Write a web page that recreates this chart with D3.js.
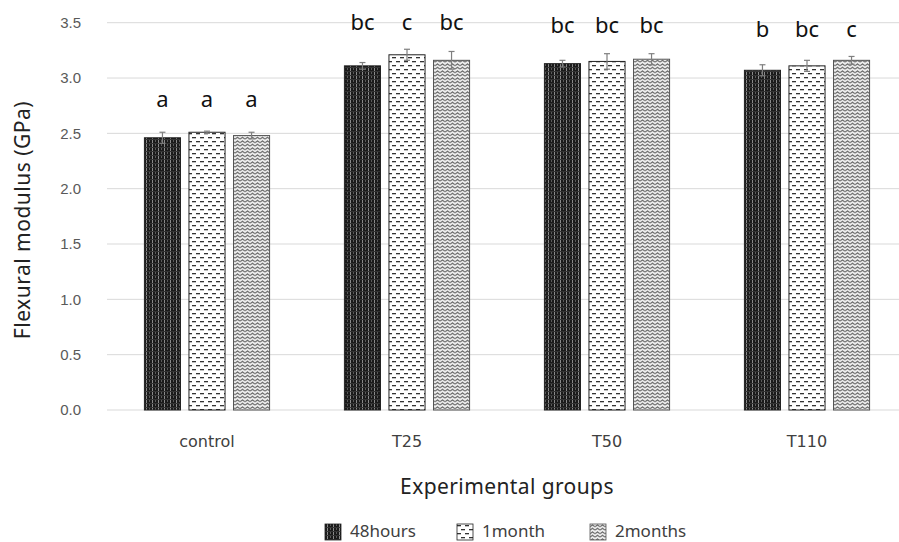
<!DOCTYPE html>
<html>
<head>
<meta charset="utf-8">
<script src="https://cdn.jsdelivr.net/npm/d3@7"></script>
<style>
  body { margin: 0; background: #fff; }
  svg { font-family: "Noto Sans", "Open Sans", sans-serif; }
</style>
</head>
<body>
<div id="chart"></div>
<script>
// groups and series
var groups = ["control", "T25", "T50", "T110"];
var series = ["48hours", "1month", "2months"];
// mean values (GPa), one array per series
var hours48 = [2.46, 3.11, 3.13, 3.07];
var month1 = [2.51, 3.21, 3.15, 3.11];
var months2 = [2.48, 3.16, 3.17, 3.16];
// error bars
var err48 = [0.05, 0.03, 0.03, 0.05];
var err1 = [0.01, 0.05, 0.07, 0.05];
var err2 = [0.03, 0.08, 0.05, 0.035];
// significance letters and the height they sit at
var letters48 = ["a", "bc", "bc", "b"];
var letters1 = ["a", "c", "bc", "bc"];
var letters2 = ["a", "bc", "bc", "c"];
var letterY = [2.74, 3.43, 3.41, 3.375];
var yTicks = [0, 0.5, 1.0, 1.5, 2.0, 2.5, 3.0, 3.5];

var width = 899, height = 542;
var svg = d3.select("#chart").append("svg")
    .attr("width", width)
    .attr("height", height);

// patterns
var defs = svg.append("defs");

// dark vertical stripes
var p1 = defs.append("pattern").attr("id", "pat0")
    .attr("patternUnits", "userSpaceOnUse").attr("width", 6).attr("height", 4);
p1.append("rect").attr("width", 6).attr("height", 4).attr("fill", "#1a1a1a");
p1.append("rect").attr("x", 2).attr("width", 1).attr("height", 4).attr("fill", "#8a8a8a");
p1.append("rect").attr("x", 5).attr("y", 0).attr("width", 1).attr("height", 2).attr("fill", "#5a5a5a");
p1.append("rect").attr("x", 0).attr("y", 3).attr("width", 6).attr("height", 1).attr("fill", "#333");

// dashes
var p2 = defs.append("pattern").attr("id", "pat1")
    .attr("patternUnits", "userSpaceOnUse").attr("width", 8).attr("height", 8);
p2.append("rect").attr("width", 8).attr("height", 8).attr("fill", "#fff");
p2.append("rect").attr("x", 0).attr("y", 1).attr("width", 4).attr("height", 1.3).attr("fill", "#333");
p2.append("rect").attr("x", 4).attr("y", 5).attr("width", 4).attr("height", 1.3).attr("fill", "#333");

// zigzag
var p3 = defs.append("pattern").attr("id", "pat2")
    .attr("patternUnits", "userSpaceOnUse").attr("width", 5).attr("height", 3.5);
p3.append("rect").attr("width", 5).attr("height", 3.5).attr("fill", "#f0f0f0");
p3.append("path").attr("d", "M0,2.7 L2.5,0.9 L5,2.7").attr("fill", "none")
    .attr("stroke", "#4a4a4a").attr("stroke-width", 1);

var x0 = d3.scaleBand()
    .domain(groups)
    .range([107, 907]);

var x1 = d3.scaleBand()
    .domain(series)
    .range([0, x0.bandwidth()])
    .paddingInner(0.19)
    .paddingOuter(0.84);

var y = d3.scaleLinear()
    .domain([0, 3.5])
    .range([410, 22.7]);

// gridlines
svg.append("g").selectAll("line")
    .data(yTicks)
    .enter()
    .append("line")
    .attr("x1", 107).attr("x2", width)
    .attr("y1", function(d) { return y(d); })
    .attr("y2", function(d) { return y(d); })
    .attr("stroke", "#d9d9d9")
    .attr("stroke-width", 1);

// y axis labels
var yAxis = d3.axisLeft(y).tickValues(yTicks).tickFormat(d3.format(".1f")).tickSize(0).tickPadding(0);
var gy = svg.append("g").attr("transform", "translate(81,0)").call(yAxis);
gy.select(".domain").remove();
gy.selectAll("text").attr("fill", "#595959").style("font-size", "15px");

// x axis labels
var xAxis = d3.axisBottom(x0).tickSize(0).tickPadding(0);
var gx = svg.append("g").attr("transform", "translate(0,436)").call(xAxis);
gx.select(".domain").remove();
gx.selectAll("text").attr("fill", "#404040")
    .style("font-size", "16px").style("font-family", "'DejaVu Sans', sans-serif");

// build rows
var vals = [hours48, month1, months2];
var errs = [err48, err1, err2];
var lets = [letters48, letters1, letters2];
var rows = [];
groups.forEach(function(g, gi) {
    series.forEach(function(s, si) {
        rows.push({group: g, series: s, si: si, value: vals[si][gi], err: errs[si][gi],
                   letter: lets[si][gi], ly: letterY[gi]});
    });
});

var strokes = ["#222", "#222", "#555"];

// bars
svg.append("g").selectAll("rect")
    .data(rows)
    .enter()
    .append("rect")
    .attr("x", function(d) { return x0(d.group) + x1(d.series); })
    .attr("y", function(d) { return y(d.value); })
    .attr("width", x1.bandwidth())
    .attr("height", function(d) { return y(0) - y(d.value); })
    .attr("fill", function(d) { return "url(#pat" + d.si + ")"; })
    .attr("stroke", function(d) { return strokes[d.si]; })
    .attr("stroke-width", 1);

// error bars
function cx(d) { return x0(d.group) + x1(d.series) + x1.bandwidth() / 2; }
var eb = svg.append("g").selectAll("g")
    .data(rows)
    .enter()
    .append("g")
    .attr("stroke", "#7f7f7f")
    .attr("stroke-width", 1.2);
eb.append("line")
    .attr("x1", cx).attr("x2", cx)
    .attr("y1", function(d) { return y(d.value - d.err); })
    .attr("y2", function(d) { return y(d.value + d.err); });
eb.append("line")
    .attr("x1", function(d) { return cx(d) - 3; })
    .attr("x2", function(d) { return cx(d) + 3; })
    .attr("y1", function(d) { return y(d.value + d.err); })
    .attr("y2", function(d) { return y(d.value + d.err); });
eb.append("line")
    .attr("x1", function(d) { return cx(d) - 3; })
    .attr("x2", function(d) { return cx(d) + 3; })
    .attr("y1", function(d) { return y(d.value - d.err); })
    .attr("y2", function(d) { return y(d.value - d.err); });

// letters
svg.append("g").selectAll("text")
    .data(rows)
    .enter()
    .append("text")
    .attr("x", cx)
    .attr("y", function(d) { return y(d.ly); })
    .attr("text-anchor", "middle")
    .style("font-size", "22px")
    .attr("fill", "#111")
    .text(function(d) { return d.letter; });

// axis titles
svg.append("text")
    .attr("transform", "translate(30,220) rotate(-90)")
    .attr("text-anchor", "middle")
    .style("font-size", "21px")
    .style("letter-spacing", "0.5px")
    .attr("fill", "#222")
    .text("Flexural modulus (GPa)");

svg.append("text")
    .attr("x", 507)
    .attr("y", 494)
    .attr("text-anchor", "middle")
    .style("font-size", "21px")
    .style("letter-spacing", "0.4px")
    .attr("fill", "#222")
    .text("Experimental groups");

// legend
var legendX = [325, 457, 590];
var lg = svg.append("g").selectAll("g")
    .data(series)
    .enter()
    .append("g")
    .attr("transform", function(d, i) { return "translate(" + legendX[i] + ",524)"; });
lg.append("rect")
    .attr("width", 16).attr("height", 16)
    .attr("fill", function(d, i) { return "url(#pat" + i + ")"; })
    .attr("stroke", function(d, i) { return strokes[i]; })
    .attr("stroke-width", 0.8);
lg.append("text")
    .attr("x", 25)
    .attr("y", 13)
    .style("font-size", "17px")
    .attr("fill", "#404040")
    .text(function(d) { return d; });
</script>
</body>
</html>
